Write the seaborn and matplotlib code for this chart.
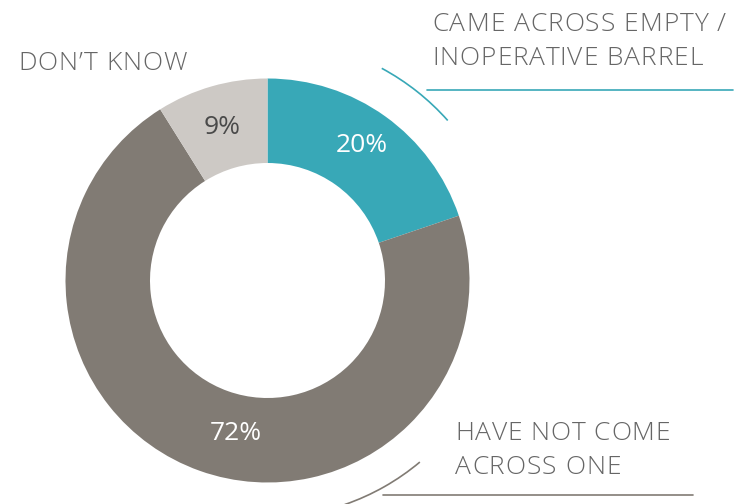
import matplotlib.pyplot as plt
import seaborn as sns
from matplotlib.patches import Arc

sns.set_style("white")
plt.rcParams['font.family'] = ['Open Sans', 'DejaVu Sans']

# Data
labels = ["CAME ACROSS EMPTY /\nINOPERATIVE BARREL", "HAVE NOT COME\nACROSS ONE", "DON\u2019T KNOW"]
values = [20, 72, 9]
pct_labels = ["20%", "72%", "9%"]
colors = ["#38a8b7", "#817b74", "#cdc9c5"]

W, H = 738, 504
fig = plt.figure(figsize=(W / 100, H / 100), dpi=100)
ax = fig.add_axes([0, 0, 1, 1])

cx, cy = 267.5, H - 280.5
r_out, r_in = 202, 117.5

wedges, _ = ax.pie(values, colors=colors, startangle=90, counterclock=False,
                   radius=r_out, center=(cx, cy),
                   wedgeprops=dict(width=r_out - r_in, linewidth=0))

ax.set_xlim(0, W)
ax.set_ylim(0, H)
ax.set_aspect('equal')
ax.axis('off')

# percentage labels
pct_pos = [(362, 146), (236, 433), (222, 128)]
pct_col = ["white", "white", "#4a4a4a"]
for txt, (x, y), c in zip(pct_labels, pct_pos, pct_col):
    ax.text(x, H - y, txt, color=c, fontsize=19, ha='center', va='center')

renderer = fig.canvas.get_renderer()
lab_kw = dict(color="#666666", fontsize=19, ha='left', va='baseline', fontweight='light')


def text_width(s):
    # width in pixels, measured with a trailing bar so spaces count
    t = ax.text(0, 0, s + "|", **lab_kw)
    w = t.get_window_extent(renderer).width
    t.remove()
    return w


bar_w = text_width("")


def spaced_text(x, y, s, track=1.05):
    # draw a line with a little letter spacing, like the original
    for i, ch in enumerate(s):
        if ch == " ":
            continue
        dx = text_width(s[:i]) - bar_w + i * track
        ax.text(x + dx, y, ch, **lab_kw)


# category labels (one line at a time, baseline positions)
lab_pos = [(432, [31, 65]), (455, [440, 474]), (18, [70])]
for lab, (x, ys) in zip(labels, lab_pos):
    for line, y in zip(lab.split("\n"), ys):
        spaced_text(x, H - y, line)

# callout lines
ax.add_patch(Arc((cx, cy), 2 * 241, 2 * 241, theta1=41.6, theta2=61.7,
                 color=colors[0], lw=1.2))
ax.plot([427, 733], [H - 90, H - 90], color=colors[0], lw=1.2)
ax.add_patch(Arc((cx, cy), 2 * 237, 2 * 237, theta1=-71, theta2=-50,
                 color=colors[1], lw=1.2))
ax.plot([383, 693], [H - 495, H - 495], color=colors[1], lw=1.2)

fig.savefig("out.png", dpi=100)
